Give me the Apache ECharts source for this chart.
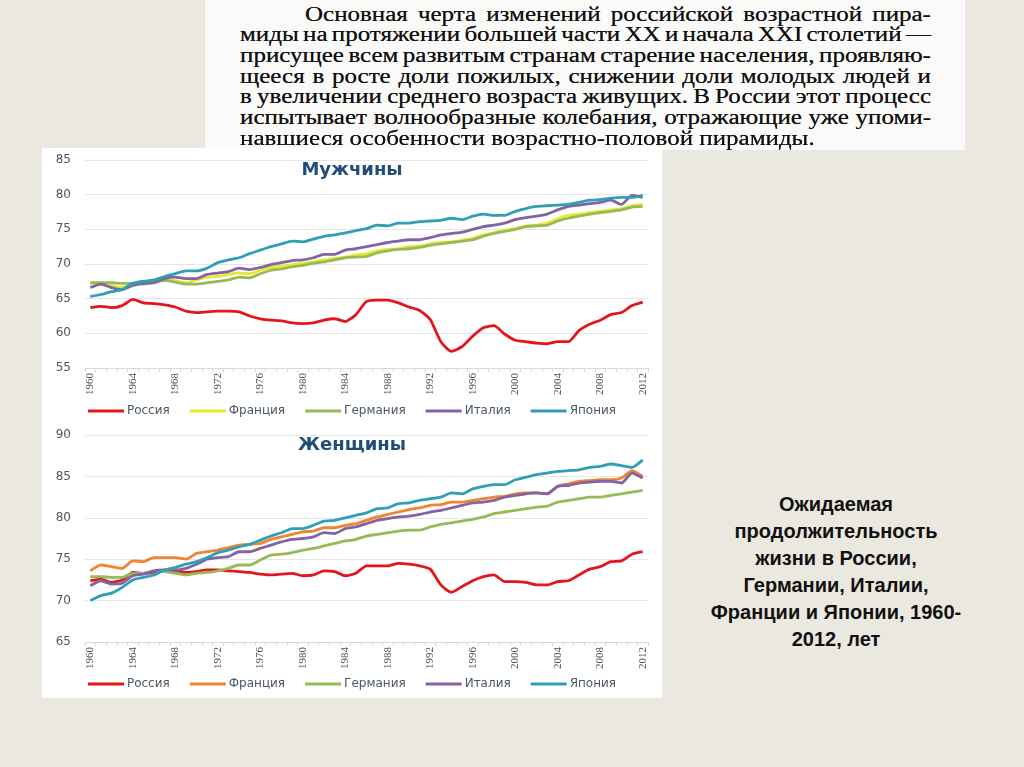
<!DOCTYPE html>
<html><head><meta charset="utf-8">
<script src="https://cdn.jsdelivr.net/npm/echarts@6/dist/echarts.min.js"></script>
<style>
html,body{margin:0;padding:0;}
body{width:1024px;height:767px;background:#ebe8df;position:relative;overflow:hidden;}
#textbox{position:absolute;left:205px;top:0;width:760px;height:150px;background:#fafaf8;}
.ln{position:absolute;font-family:'Liberation Serif','Times New Roman',serif;font-size:20px;color:#111;text-shadow:0 0 0.5px #333;transform-origin:0 50%;display:flex;white-space:nowrap;height:21px;line-height:21px;}
.ln span{white-space:nowrap;}
#panel{position:absolute;left:42px;top:148px;width:620px;height:550px;background:#fff;}
#caption{position:absolute;left:676px;top:491px;width:320px;text-align:center;font-family:'Liberation Sans',Arial,sans-serif;font-weight:bold;font-size:20px;line-height:27px;color:#111;}
</style></head>
<body>
<div id="textbox"></div>
<div id="panel"></div>
<div id="caption">Ожидаемая<br>продолжительность<br>жизни в России,<br>Германии, Италии,<br>Франции и Японии, 1960-<br>2012, лет</div>
<script>
// ---------- DATA ----------
const years = ['1960','1961','1962','1963','1964','1965','1966','1967','1968','1969',
  '1970','1971','1972','1973','1974','1975','1976','1977','1978','1979',
  '1980','1981','1982','1983','1984','1985','1986','1987','1988','1989',
  '1990','1991','1992','1993','1994','1995','1996','1997','1998','1999',
  '2000','2001','2002','2003','2004','2005','2006','2007','2008','2009',
  '2010','2011','2012'];
const seriesNames = ['Россия','Франция','Германия','Италия','Япония'];

// Men
const russiaM = [63.7,63.9,63.7,64.0,64.9,64.4,64.3,64.1,63.8,63.2,
  63.0,63.1,63.2,63.2,63.1,62.5,62.1,61.9,61.8,61.5,
  61.4,61.5,61.9,62.1,61.7,62.7,64.6,64.8,64.8,64.4,
  63.8,63.3,62.0,58.8,57.4,58.1,59.6,60.8,61.1,59.9,
  59.0,58.8,58.6,58.5,58.8,58.8,60.4,61.3,61.9,62.7,
  63.0,64.0,64.5];
const franceM = [67.2,67.2,66.9,66.6,67.2,67.3,67.3,67.7,67.6,67.3,
  67.7,68.1,68.2,68.5,68.7,68.6,69.1,69.5,69.7,69.9,
  70.1,70.3,70.6,70.8,71.0,71.3,71.5,71.9,72.1,72.2,
  72.5,72.6,72.9,73.1,73.2,73.4,73.7,74.2,74.5,74.9,
  75.1,75.5,75.6,75.9,76.5,77.0,77.2,77.4,77.6,77.8,
  78.0,78.4,78.6];
const germanyM = [67.3,67.3,67.3,67.2,67.2,67.1,67.4,67.6,67.4,67.1,
  67.1,67.3,67.5,67.7,68.1,68.0,68.6,69.1,69.3,69.6,
  69.8,70.1,70.3,70.6,70.9,71.0,71.1,71.6,71.9,72.1,
  72.2,72.4,72.7,72.9,73.1,73.3,73.5,74.0,74.4,74.7,
  75.0,75.4,75.5,75.6,76.2,76.6,76.9,77.2,77.4,77.6,
  77.8,78.2,78.3];
const italyM = [66.6,67.1,66.6,66.3,66.9,67.2,67.3,67.9,68.1,67.9,
  67.9,68.5,68.7,68.9,69.4,69.2,69.5,69.9,70.2,70.5,
  70.6,70.9,71.4,71.4,72.0,72.2,72.5,72.8,73.1,73.3,
  73.5,73.5,73.8,74.2,74.4,74.6,75.0,75.4,75.6,75.9,
  76.4,76.7,76.9,77.2,77.8,78.3,78.5,78.7,78.9,79.2,
  78.6,79.9,79.6];
const japanM = [65.3,65.6,66.0,66.3,67.2,67.5,67.7,68.2,68.6,69.0,
  69.0,69.4,70.2,70.6,70.9,71.5,72.0,72.5,72.9,73.3,
  73.2,73.6,74.0,74.2,74.5,74.8,75.1,75.6,75.5,75.9,
  75.9,76.1,76.2,76.3,76.6,76.4,76.9,77.2,77.0,77.0,
  77.6,78.0,78.3,78.4,78.5,78.6,78.9,79.2,79.3,79.5,
  79.6,79.6,79.9];

// Women
const russiaW = [72.4,72.6,72.2,72.5,73.4,73.3,73.4,73.6,73.6,73.4,
  73.5,73.7,73.7,73.6,73.5,73.4,73.2,73.1,73.2,73.3,
  73.0,73.1,73.6,73.5,73.0,73.3,74.2,74.2,74.2,74.5,
  74.4,74.2,73.8,71.9,71.0,71.7,72.4,72.9,73.1,72.3,
  72.3,72.2,71.9,71.9,72.3,72.4,73.1,73.8,74.1,74.7,
  74.8,75.6,75.9];
const franceW = [73.6,74.3,74.1,73.9,74.8,74.7,75.2,75.2,75.2,75.0,
  75.7,75.9,76.1,76.4,76.7,76.8,76.9,77.4,77.7,78.0,
  78.3,78.4,78.8,78.8,79.1,79.3,79.7,80.1,80.4,80.7,
  81.0,81.2,81.5,81.6,81.9,81.9,82.1,82.3,82.5,82.6,
  82.9,83.0,83.0,82.9,83.8,84.1,84.4,84.5,84.6,84.6,
  84.8,85.7,85.0];
const germanyW = [72.9,72.9,72.8,72.8,73.3,73.3,73.6,73.5,73.3,73.1,
  73.3,73.4,73.6,73.9,74.3,74.3,74.9,75.5,75.6,75.8,
  76.1,76.3,76.6,76.9,77.2,77.4,77.8,78.0,78.2,78.4,
  78.5,78.5,78.9,79.2,79.4,79.6,79.8,80.1,80.5,80.7,
  80.9,81.1,81.3,81.4,81.9,82.1,82.3,82.5,82.5,82.7,
  82.9,83.1,83.3];
const italyW = [71.8,72.4,72.0,72.1,73.0,73.2,73.6,73.7,73.7,73.9,
  74.4,75.0,75.2,75.3,75.9,75.9,76.3,76.7,77.1,77.4,
  77.5,77.7,78.2,78.1,78.7,78.9,79.3,79.7,79.9,80.1,
  80.2,80.4,80.7,80.9,81.2,81.5,81.8,81.9,82.1,82.5,
  82.7,82.9,83.0,82.9,83.8,83.9,84.2,84.3,84.4,84.4,
  84.2,85.4,84.8];
const japanW = [70.0,70.6,70.9,71.6,72.5,72.8,73.1,73.7,74.0,74.4,
  74.7,75.2,75.8,76.1,76.5,76.8,77.3,77.8,78.2,78.7,
  78.7,79.1,79.6,79.7,80.0,80.3,80.6,81.1,81.2,81.7,
  81.8,82.1,82.3,82.5,83.0,82.9,83.5,83.8,84.0,84.0,
  84.6,84.9,85.2,85.4,85.6,85.7,85.8,86.1,86.2,86.5,
  86.3,86.1,87.0];

const titles = ['Мужчины','Женщины'];
const textLines = [
  'Основная черта изменений российской возрастной пира-',
  'миды на протяжении большей части XX и начала XXI столетий —',
  'присущее всем развитым странам старение населения, проявляю-',
  'щееся в росте доли пожилых, снижении доли молодых людей и',
  'в увеличении среднего возраста живущих. В России этот процесс',
  'испытывает волнообразные колебания, отражающие уже упоми-',
  'навшиеся особенности возрастно-половой пирамиды.'
];

// ---------- top text block ----------
(function(){
  const sx = 1.25;
  textLines.forEach((t,i)=>{
    const d = document.createElement('div');
    d.className = 'ln';
    const left = i===0 ? 305 : 240;
    const right = 931;
    d.style.left = left+'px';
    d.style.top = (3.5 + i*20.7)+'px';
    d.style.transform = 'scaleX('+sx+')';
    if (i < textLines.length-1) {
      d.style.width = ((right-left)/sx)+'px';
      d.style.justifyContent = 'space-between';
      t.split(' ').forEach(w=>{const s=document.createElement('span');s.textContent=w;d.appendChild(s);});
    } else {
      d.textContent = t;
    }
    document.body.appendChild(d);
  });
})();

// ---------- chart ----------
const colors = {
  ru:'#e3161b', frM:'#e6ea2e', frW:'#ef8530', de:'#97b957', it:'#8264a4', jp:'#2f9fb6'
};
const chart = echarts.init(document.getElementById('panel'), null, {renderer:'canvas'});

function mkX(gi){
  return {
    type:'category', gridIndex:gi, data:years, boundaryGap:true,
    axisLine:{show:true, lineStyle:{color:'#d9d9d9', width:1}},
    axisTick:{show:true, interval:0, length:4, lineStyle:{color:'#d9d9d9'}},
    axisLabel:{interval:3, rotate:90, margin:5, fontFamily:'Liberation Sans Narrow', fontSize:11, color:'#4d4d4d'},
    splitLine:{show:false}
  };
}
function mkY(gi, mn, mx){
  return {
    type:'value', gridIndex:gi, min:mn, max:mx, interval:5,
    axisLine:{show:false}, axisTick:{show:false},
    axisLabel:{margin:14, fontFamily:'DejaVu Sans', fontSize:12, color:'#555'},
    splitLine:{lineStyle:{color:'#e6e6e6', width:1}}
  };
}
function mkS(name, data, color, gi){
  return {
    type:'line', name:name, data:data, xAxisIndex:gi, yAxisIndex:gi,
    symbol:'none', smooth:0.2, color:color,
    lineStyle:{width:2.8, color:color}, emphasis:{disabled:true}
  };
}
const menColors = [colors.ru, colors.frM, colors.de, colors.it, colors.jp];
const womenColors = [colors.ru, colors.frW, colors.de, colors.it, colors.jp];
const menData = [russiaM, franceM, germanyM, italyM, japanM];
const womenData = [russiaW, franceW, germanyW, italyW, japanW];

function mkLegend(top, cols){
  return {
    top:top, left:'center', itemWidth:36, itemHeight:12, itemGap:20,
    icon:'path://M0,5 L36,5 L36,8 L0,8 Z',
    textStyle:{fontFamily:'DejaVu Sans', fontSize:12, color:'#4a5866', padding:[0,0,0,-2]},
    selectedMode:false,
    data: seriesNames.map((n,i)=>({name:n, itemStyle:{color:cols[i]}, lineStyle:{color:cols[i]}}))
  };
}

const titleStyle = {fontFamily:'DejaVu Sans', fontWeight:'bold', fontSize:18, color:'#1f4e79'};
chart.setOption({
  animation:false,
  title:[
    {text:titles[0], left:'center', top:8, textStyle:titleStyle},
    {text:titles[1], left:'center', top:283, textStyle:titleStyle}
  ],
  grid:[
    {left:43, right:14, top:12, height:208},
    {left:43, right:14, top:287, height:207}
  ],
  xAxis:[mkX(0), mkX(1)],
  yAxis:[mkY(0,55,85), mkY(1,65,90)],
  legend:[mkLegend(252, menColors), mkLegend(525, womenColors)],
  series: seriesNames.map((n,i)=>mkS(n, menData[i], menColors[i], 0))
    .concat(seriesNames.map((n,i)=>mkS(n, womenData[i], womenColors[i], 1)))
});
</script>
</body></html>
